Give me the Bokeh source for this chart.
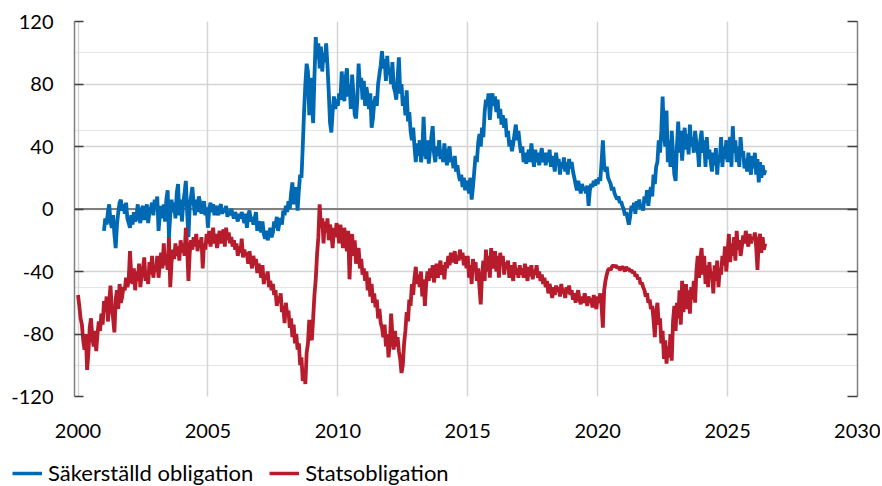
import numpy as np
from bokeh.plotting import figure
from bokeh.layouts import column, row
from bokeh.models import Range1d, LinearAxis, FixedTicker, Span, Legend, LegendItem, Grid
from bokeh.embed import file_html
from bokeh.resources import INLINE

# ---- data (20 readings per year) ----
series_names = ["Säkerställd obligation", "Statsobligation"]
x_ticks = [2000, 2005, 2010, 2015, 2020, 2025, 2030]
y_ticks = [-120, -80, -40, 0, 40, 80, 120]
steps_per_year = 20

blue_start = 2001.0
blue_values = [
    -14, -6, -10, -2, 3, -8, -12, -4, -16, -25, -10, -2, 4, 6, -1, 3, -3, 4, -6, -9,          # 2001
    -12, -4, -10, -2, -8, -5, 3, -6, -9, 0, 2, -7, -3, 3, -9, -2, 0, 4, -4, 6,                # 2002
    2, 8, -14, -4, 2, -6, 3, -8, 6, 12, -18, -4, 6, -2, 4, -6, 10, 16, -4, 6,                 # 2003
    -8, 4, 10, 18, -2, -18, 2, 8, 14, 4, -4, 6, -2, 8, 4, -3, 2, 5, -4, 1,                    # 2004
    -12, 0, 4, -2, 3, -4, 2, 0, -4, 1, 3, -3, 0, -2, 2, -5, -1, -4, 0, -3,                    # 2005
    -6, -2, -5, -8, -3, -6, -2, -5, -9, -3, -12, -4, -1, -8, -5, -10, -6, -2, -14, -8,        # 2006
    -10, -15, -8, -16, -19, -14, -20, -17, -12, -18, -15, -8, -12, -5, -14, -9, -6, -10, -1, -4,  # 2007
    2, -2, 5, 0, 10, 17, 3, 8, 14, -1, 12, 22, 20, 40, 62, 80, 93, 88, 60, 84,                # 2008
    70, 55, 85, 110, 96, 106, 90, 104, 88, 100, 94, 106, 92, 75, 55, 49, 62, 72, 64, 70,      # 2009
    66, 74, 70, 88, 76, 69, 84, 90, 72, 80, 64, 86, 74, 60, 58, 70, 93, 78, 84, 70,           # 2010
    82, 66, 78, 72, 64, 74, 52, 58, 68, 72, 66, 80, 86, 92, 101, 90, 96, 82, 98, 86,          # 2011
    90, 80, 94, 78, 75, 70, 84, 97, 74, 80, 66, 72, 60, 76, 56, 62, 50, 44, 52, 40,           # 2012
    30, 42, 34, 44, 30, 36, 59, 40, 32, 44, 29, 38, 46, 53, 36, 30, 40, 34, 44, 32,           # 2013
    38, 30, 42, 34, 28, 36, 40, 30, 33, 26, 34, 24, 28, 22, 18, 22, 14, 20, 12, 18,           # 2014
    16, 10, 20, 6, 14, 24, 34, 30, 42, 48, 40, 52, 46, 62, 70, 66, 74, 57, 68, 74,            # 2015
    66, 72, 62, 70, 58, 64, 54, 60, 52, 58, 46, 50, 40, 44, 37, 42, 48, 54, 44, 50,           # 2016
    42, 36, 40, 30, 36, 29, 34, 38, 30, 42, 33, 27, 38, 30, 36, 28, 34, 39, 30, 36,           # 2017
    28, 36, 30, 38, 27, 34, 30, 24, 36, 28, 32, 22, 30, 26, 33, 24, 30, 22, 32, 26,           # 2018
    30, 24, 20, 16, 12, 18, 14, 10, 16, 12, 14, 10, 15, 2, 12, 16, 14, 18, 15, 19,            # 2019
    16, 20, 18, 30, 44, 28, 24, 27, 20, 18, 16, 12, 14, 10, 8, 6, 8, 4, 5, 2,                 # 2020
    0, -4, -2, -6, -10, -5, 2, -1, 4, -3, 5, 1, 6, 0, 3, -1, 8, 4, 12, 2,                     # 2021
    10, 14, 8, 22, 16, 27, 30, 44, 36, 50, 72, 48, 40, 63, 30, 44, 27, 50, 36, 22,            # 2022
    18, 40, 56, 36, 50, 31, 44, 52, 38, 48, 35, 54, 40, 46, 36, 50, 42, 38, 27, 44,           # 2023
    50, 36, 44, 27, 46, 32, 38, 30, 24, 36, 28, 39, 22, 34, 30, 46, 27, 40, 32, 44,           # 2024
    30, 40, 46, 27, 53, 36, 44, 30, 40, 27, 46, 34, 37, 26, 32, 24, 36, 28, 22, 34,           # 2025
    26, 36, 22, 32, 17, 30, 20, 28, 22, 25,                                                   # 2026
]

red_start = 2000.0
red_values = [
    -55, -62, -70, -74, -84, -90, -80, -103, -92, -76, -70, -82, -88, -78, -91, -80, -72, -78, -67, -74,  # 2000
    -59, -66, -56, -72, -60, -49, -64, -70, -79, -58, -52, -64, -48, -60, -56, -50, -52, -44, -50, -46,   # 2001
    -27, -42, -48, -38, -52, -40, -46, -35, -50, -42, -38, -31, -46, -40, -48, -34, -42, -30, -44, -36,   # 2002
    -40, -30, -44, -35, -28, -38, -22, -36, -30, -39, -18, -50, -34, -26, -32, -22, -30, -24, -33, -20,   # 2003
    -28, -22, -30, -12, -24, -46, -28, -20, -26, -18, -24, -16, -27, -20, -25, -18, -38, -22, -26, -16,   # 2004
    -22, -14, -24, -18, -12, -22, -16, -25, -20, -14, -22, -17, -13, -24, -12, -20, -15, -22, -18, -24,   # 2005
    -20, -26, -22, -30, -24, -28, -19, -31, -26, -30, -28, -35, -27, -33, -38, -30, -36, -32, -41, -35,   # 2006
    -38, -44, -36, -48, -42, -45, -40, -50, -46, -52, -48, -55, -52, -62, -56, -60, -54, -66, -62, -73,   # 2007
    -60, -68, -65, -76, -70, -82, -74, -86, -80, -90, -86, -100, -95, -110, -104, -112, -92, -86, -71, -80,  # 2008
    -84, -70, -55, -45, -29, -18, 3, -12, -6, -22, -8, -15, -6, -20, -10, -16, -25, -12, -18, -9,         # 2009
    -14, -22, -10, -18, -25, -12, -20, -27, -14, -45, -24, -16, -30, -20, -35, -28, -25, -38, -32, -42,   # 2010
    -38, -46, -40, -52, -44, -56, -48, -60, -54, -63, -58, -70, -64, -73, -76, -82, -74, -88, -80, -95,   # 2011
    -86, -67, -80, -90, -78, -88, -82, -91, -96, -105, -100, -86, -78, -66, -72, -58, -62, -48, -55, -44, # 2012
    -37, -48, -42, -50, -40, -56, -45, -62, -48, -40, -46, -38, -44, -36, -47, -40, -35, -44, -38, -33,   # 2013
    -42, -36, -45, -34, -38, -30, -36, -28, -34, -31, -27, -35, -30, -33, -26, -32, -28, -36, -30, -38,   # 2014
    -30, -44, -36, -48, -32, -40, -34, -46, -38, -50, -61, -42, -33, -46, -26, -40, -30, -44, -25, -38,   # 2015
    -32, -27, -40, -30, -44, -28, -36, -30, -42, -34, -38, -33, -44, -36, -40, -46, -34, -42, -38, -44,   # 2016
    -36, -42, -38, -44, -35, -40, -46, -37, -43, -36, -45, -39, -42, -36, -44, -40, -46, -42, -48, -44,   # 2017
    -50, -46, -54, -48, -52, -57, -50, -55, -49, -53, -50, -56, -48, -54, -51, -57, -50, -54, -49, -55,   # 2018
    -52, -58, -54, -60, -55, -52, -58, -61, -56, -60, -54, -58, -62, -56, -60, -57, -63, -55, -60, -64,   # 2019
    -56, -60, -54, -62, -76, -52, -46, -42, -39, -38, -39, -37, -36, -37, -36, -38, -37, -39, -38, -37,   # 2020
    -38, -40, -37, -39, -38, -40, -39, -41, -40, -43, -42, -45, -44, -48, -47, -50, -52, -56, -54, -60,   # 2021
    -58, -64, -62, -71, -82, -66, -60, -74, -70, -86, -78, -96, -84, -99, -88, -95, -80, -97, -72, -62,   # 2022
    -78, -60, -70, -52, -74, -46, -66, -56, -48, -64, -52, -67, -50, -58, -46, -60, -40, -30, -44, -32,   # 2023
    -25, -42, -30, -48, -36, -50, -34, -44, -40, -54, -36, -46, -33, -50, -38, -42, -30, -36, -24, -40,   # 2024
    -28, -16, -34, -22, -30, -18, -33, -14, -26, -20, -30, -24, -17, -22, -14, -20, -24, -16, -22, -18,   # 2025
    -20, -15, -24, -39, -20, -16, -28, -18, -26, -22,                                                     # 2026
]

blue_x = blue_start + np.arange(len(blue_values)) / steps_per_year
red_x = red_start + np.arange(len(red_values)) / steps_per_year

BLUE = "#0069B4"
RED = "#B71C2C"
FONT = "Lato"
W = 880

p = figure(width=W, height=446, output_backend="svg", toolbar_location=None,
           x_range=Range1d(1999.865, 2030), y_range=Range1d(-120, 120),
           min_border_left=74, min_border_right=23, min_border_top=21,
           min_border_bottom=50, x_axis_location=None, y_axis_location=None)
p.outline_line_color = None
p.background_fill_color = "white"
p.border_fill_color = "white"

xaxis = LinearAxis(ticker=FixedTicker(ticks=x_ticks))
xaxis.axis_line_color = None
xaxis.major_tick_line_color = None
xaxis.minor_tick_line_color = None
xaxis.major_label_standoff = 21
xaxis.major_label_text_font = FONT
xaxis.major_label_text_font_size = "20px"
xaxis.major_label_text_color = "black"
p.add_layout(xaxis, "below")

yaxis = LinearAxis(ticker=FixedTicker(ticks=y_ticks))
yaxis.axis_line_color = "#7F7F7F"
yaxis.axis_line_width = 1.5
yaxis.major_tick_in = 9
yaxis.major_tick_out = 0
yaxis.major_tick_line_color = "#404040"
yaxis.major_tick_line_width = 1.5
yaxis.minor_tick_line_color = None
yaxis.major_label_standoff = 21
yaxis.major_label_text_font = FONT
yaxis.major_label_text_font_size = "20px"
yaxis.major_label_text_color = "black"
yaxis.major_label_overrides = {t: str(t) for t in y_ticks}
p.add_layout(yaxis, "left")

raxis = LinearAxis(ticker=FixedTicker(ticks=y_ticks))
raxis.axis_line_color = "#7F7F7F"
raxis.axis_line_width = 1.5
raxis.major_tick_in = 10
raxis.major_tick_out = 0
raxis.major_tick_line_color = "#404040"
raxis.major_tick_line_width = 1.5
raxis.minor_tick_line_color = None
raxis.major_label_overrides = {t: "" for t in y_ticks}
raxis.major_label_standoff = 0
p.add_layout(raxis, "right")

p.add_layout(Grid(dimension=0, ticker=FixedTicker(ticks=x_ticks),
                  grid_line_color="#D4D4D4", grid_line_width=1.5))
p.add_layout(Grid(dimension=1, ticker=FixedTicker(ticks=y_ticks),
                  grid_line_color="#D4D4D4", grid_line_width=1.5))
p.add_layout(Span(location=0, dimension="width", line_color="#7F7F7F",
                  line_width=2, level="underlay"))

p.line(blue_x, blue_values, line_color=BLUE, line_width=3.8)
p.line(red_x, red_values, line_color=RED, line_width=3.8)

# legend strip below the chart (its own small figure)
p2 = figure(width=W, height=40, output_backend="svg", toolbar_location=None,
            x_range=Range1d(0, 1), y_range=Range1d(0, 1), min_border=0,
            x_axis_location=None, y_axis_location=None)
p2.outline_line_color = None
p2.border_fill_color = "white"
p2.grid.visible = False
# swatch renderers: their points lie outside the strip's ranges, so only the legend shows them
lb = p2.line([5, 6], [5, 6], line_color=BLUE, line_width=3.5)
lr = p2.line([5, 6], [5, 6], line_color=RED, line_width=3.5)
legend = Legend(items=[LegendItem(label=series_names[0], renderers=[lb]),
                       LegendItem(label=series_names[1], renderers=[lr])],
                orientation="horizontal", location=(12, 0),
                padding=0, margin=0, spacing=16, glyph_width=30,
                label_standoff=6, border_line_color=None,
                background_fill_alpha=0,
                label_text_font=FONT, label_text_font_size="22px",
                label_text_color="black")
p2.add_layout(legend, "center")

layout = column(p, row(p2), spacing=0)
open("out.html", "w").write(file_html(layout, INLINE))
